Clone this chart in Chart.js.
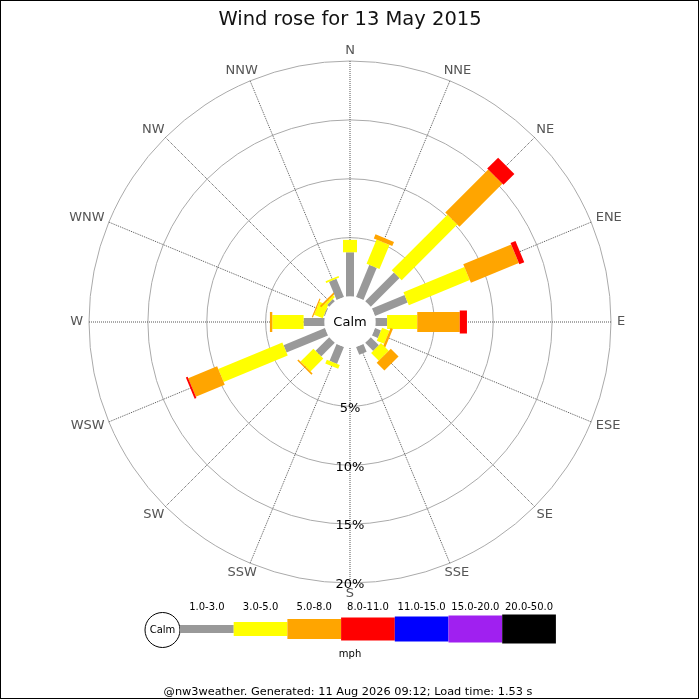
<!DOCTYPE html>
<html>
<head>
<meta charset="utf-8">
<title>Wind rose</title>
<script src="https://cdn.jsdelivr.net/npm/chart.js@4.4.1/dist/chart.umd.min.js"></script>
<style>
  body { margin: 0; background: #fff; }
  canvas { display: block; }
</style>
</head>
<body>
<canvas id="windRose" width="700" height="700"></canvas>
<script>
// directions go clockwise from north
var directions = ['N', 'NNE', 'NE', 'ENE', 'E', 'ESE', 'SE', 'SSE', 'S', 'SSW', 'SW', 'WSW', 'W', 'WNW', 'NW', 'NNW'];
var speedBins = ['1.0-3.0', '3.0-5.0', '5.0-8.0', '8.0-11.0', '11.0-15.0', '15.0-20.0', '20.0-50.0'];
var ringTicks = [5, 10, 15, 20];

// % of the day in each speed bin, per direction
var bin1 = [3.76, 2.95, 3.45, 3.00, 0.99, 0.55, 0.97, 0.71, 0, 1.55, 1.64, 3.81, 1.78, 0.10, 0.25, 1.68];
var bin2 = [1.05, 2.22, 6.68, 5.60, 2.56, 0.67, 0.92, 0, 0, 0.34, 1.54, 5.89, 2.66, 0.80, 0.20, 0.15];
var bin3 = [0, 0.38, 5.16, 4.40, 3.61, 0.21, 0.93, 0, 0, 0, 0.14, 2.66, 0.20, 0.10, 0.15, 0];
var bin4 = [0, 0, 1.31, 0.45, 0.61, 0, 0, 0, 0, 0, 0, 0.16, 0, 0, 0, 0];
var bin5 = [0, 0, 0, 0, 0, 0, 0, 0, 0, 0, 0, 0, 0, 0, 0, 0];
var bin6 = [0, 0, 0, 0, 0, 0, 0, 0, 0, 0, 0, 0, 0, 0, 0, 0];
var bin7 = [0, 0, 0, 0, 0, 0, 0, 0, 0, 0, 0, 0, 0, 0, 0, 0];

var binColors = ['#999999', '#ffff00', '#ffa500', '#ff0000', '#0000ff', '#a020f0', '#000000'];
var binWidths = [8, 14, 20, 23, 25, 27, 29];

var FONT = '"DejaVu Sans", Verdana, sans-serif';
var calmMin = -2.16; // leaves room for the calm circle

var allBins = [bin1, bin2, bin3, bin4, bin5, bin6, bin7];
var datasets = allBins.map(function (values, k) {
  return {
    label: speedBins[k],
    data: values,
    backgroundColor: binColors[k],
    borderColor: binColors[k],
    barWidth: binWidths[k],
    showLine: false,
    fill: false,
    pointRadius: 0,
    pointHoverRadius: 0
  };
});

var rosePlugin = {
  id: 'rose',
  afterDatasetsDraw: function (chart) {
    var ctx = chart.ctx;
    var scale = chart.scales.r;
    ctx.save();
    ctx.lineCap = 'butt';

    // stacked bars, one per direction
    for (var i = 0; i < directions.length; i++) {
      var cum = 0;
      chart.data.datasets.forEach(function (ds) {
        var v = ds.data[i];
        if (!v) return;
        var p0 = scale.getPointPosition(i, scale.getDistanceFromCenterForValue(cum));
        var p1 = scale.getPointPosition(i, scale.getDistanceFromCenterForValue(cum + v));
        ctx.strokeStyle = ds.backgroundColor;
        ctx.lineWidth = ds.barWidth;
        ctx.beginPath();
        ctx.moveTo(p0.x, p0.y);
        ctx.lineTo(p1.x, p1.y);
        ctx.stroke();
        cum += v;
      });
    }

    // calm circle
    var calmR = scale.getDistanceFromCenterForValue(0);
    ctx.fillStyle = '#fff';
    ctx.beginPath();
    ctx.arc(scale.xCenter, scale.yCenter, calmR, 0, Math.PI * 2);
    ctx.fill();
    ctx.fillStyle = '#000';
    ctx.font = '13px ' + FONT;
    ctx.textAlign = 'center';
    ctx.textBaseline = 'middle';
    ctx.fillText('Calm', scale.xCenter, scale.yCenter + 1);

    // ring labels down the south axis
    ringTicks.forEach(function (t) {
      ctx.fillText(t + '%', scale.xCenter, scale.yCenter + scale.getDistanceFromCenterForValue(t) + 2);
    });

    // compass labels
    ctx.fillStyle = '#555';
    var outer = scale.getDistanceFromCenterForValue(scale.max) + 6;
    directions.forEach(function (name, i) {
      var p = scale.getPointPosition(i, outer);
      var a = p.angle + Math.PI / 2;
      var w = ctx.measureText(name).width;
      ctx.fillText(name, p.x + Math.sin(a) * w / 2, p.y - Math.cos(a) * 4.75);
    });
    ctx.restore();
  },
  afterDraw: function (chart) {
    var ctx = chart.ctx;
    ctx.save();

    // speed key
    var cy = 629, x0 = 180, segW = 53.7;
    ctx.strokeStyle = '#000';
    ctx.lineWidth = 1;
    ctx.beginPath();
    ctx.arc(162.5, cy + 1, 17.5, 0, Math.PI * 2);
    ctx.stroke();
    ctx.fillStyle = '#000';
    ctx.font = '10px ' + FONT;
    ctx.textAlign = 'center';
    ctx.textBaseline = 'middle';
    ctx.fillText('Calm', 162.5, cy + 1);
    chart.data.datasets.forEach(function (ds, k) {
      var x = x0 + k * segW;
      ctx.fillStyle = ds.backgroundColor;
      ctx.fillRect(x, cy - ds.barWidth / 2, segW, ds.barWidth);
      ctx.fillStyle = '#000';
      ctx.fillText(ds.label, x + segW / 2, 607);
    });
    ctx.fillText('mph', 350, 654);

    ctx.font = '11.3px ' + FONT;
    ctx.fillText('@nw3weather. Generated: 11 Aug 2026 09:12; Load time: 1.53 s', 348, 692);

    ctx.strokeStyle = '#000';
    ctx.strokeRect(0.5, 0.5, 698, 698);
    ctx.restore();
  }
};

new Chart(document.getElementById('windRose').getContext('2d'), {
  type: 'radar',
  data: {
    labels: directions,
    datasets: datasets
  },
  options: {
    responsive: false,
    animation: false,
    devicePixelRatio: 1,
    layout: { padding: { left: 88, right: 88, top: 0, bottom: 116 } },
    plugins: {
      legend: { display: false },
      tooltip: { enabled: false },
      title: {
        display: true,
        text: 'Wind rose for 13 May 2015',
        color: '#111',
        font: { family: FONT, size: 19.5, weight: 'normal' },
        padding: { top: 8, bottom: 30 }
      }
    },
    scales: {
      r: {
        min: calmMin,
        max: 20,
        startAngle: 0,
        afterBuildTicks: function (scale) {
          scale.ticks = [calmMin].concat(ringTicks).map(function (v) { return { value: v }; });
        },
        ticks: { display: false },
        pointLabels: { display: false },
        grid: { circular: true, color: '#aaaaaa', lineWidth: 1 },
        angleLines: { color: '#555555', lineWidth: 1, borderDash: [1, 1] }
      }
    }
  },
  plugins: [rosePlugin]
});
</script>
</body>
</html>
